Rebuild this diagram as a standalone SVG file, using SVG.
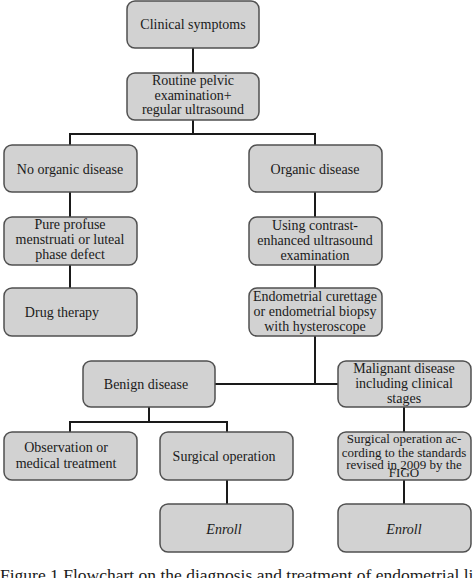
<svg xmlns="http://www.w3.org/2000/svg" width="474" height="578" viewBox="0 0 474 578">
<style>
.box{fill:#d2d2d2;stroke:#505050;stroke-width:1.5}
.t{font-family:"Liberation Serif","Times New Roman",serif;font-size:14px;fill:#1a1a1a;text-anchor:middle}
.s{font-size:13px}
.i{font-style:italic}
.c{stroke:#1a1a1a;stroke-width:2;fill:none}
.cap{font-family:"Liberation Serif","Times New Roman",serif;font-size:17.5px;fill:#1a1a1a}
</style>
<rect width="474" height="578" fill="#fff"/>
<g id="connectors">
<path class="c" d="M193,48V73M193,120V134M69,134H316M70,133V145M315,133V145M70,192V217M70,265V288M315,192V217M315,265V288M315,336V384M215,384H338M149,407V422M69,422H228M70,421V432M227,421V432M227,480V504M404,407V432M404,480V504"/>
</g>
<g id="clinical"><rect class="box" x="127" y="1" width="132" height="47" rx="8"/><text class="t" x="193" y="29">Clinical symptoms</text></g>
<g id="routine"><rect class="box" x="127" y="73" width="132" height="47" rx="8"/><text class="t" x="193" y="85">Routine pelvic</text><text class="t" x="193" y="100">examination+</text><text class="t" x="193" y="114">regular ultrasound</text></g>
<g id="noorganic"><rect class="box" x="4" y="145" width="133" height="47" rx="8"/><text class="t" x="70" y="174">No organic disease</text></g>
<g id="organic"><rect class="box" x="249" y="145" width="133" height="47" rx="8"/><text class="t" x="315" y="174">Organic disease</text></g>
<g id="pure"><rect class="box" x="4" y="217" width="133" height="48" rx="8"/><text class="t" x="70" y="229">Pure profuse</text><text class="t" x="70" y="244">menstruati or luteal</text><text class="t" x="70" y="259">phase defect</text></g>
<g id="contrast"><rect class="box" x="249" y="217" width="133" height="48" rx="8"/><text class="t" x="315" y="230">Using contrast-</text><text class="t" x="315" y="245">enhanced ultrasound</text><text class="t" x="315" y="260">examination</text></g>
<g id="drug"><rect class="box" x="4" y="288" width="133" height="48" rx="8"/><text class="t" x="62" y="317">Drug therapy</text></g>
<g id="endometrial"><rect class="box" x="249" y="288" width="133" height="48" rx="8"/><text class="t" x="315" y="301">Endometrial curettage</text><text class="t" x="315" y="316">or endometrial biopsy</text><text class="t" x="315" y="331">with hysteroscope</text></g>
<g id="benign"><rect class="box" x="83" y="361" width="132" height="46" rx="8"/><text class="t" x="146" y="389">Benign disease</text></g>
<g id="malignant"><rect class="box" x="338" y="361" width="133" height="46" rx="8"/><text class="t" x="404" y="373">Malignant disease</text><text class="t" x="404" y="388">including clinical</text><text class="t" x="404" y="403">stages</text></g>
<g id="observation"><rect class="box" x="4" y="432" width="133" height="48" rx="8"/><text class="t" x="66" y="452">Observation or</text><text class="t" x="66" y="468">medical treatment</text></g>
<g id="surgical"><rect class="box" x="160" y="432" width="133" height="48" rx="8"/><text class="t" x="224" y="461">Surgical operation</text></g>
<g id="figo"><rect class="box" x="338" y="432" width="133" height="48" rx="8"/><text class="t s" x="404" y="443">Surgical operation ac-</text><text class="t s" x="404" y="457">cording to the standards</text><text class="t s" x="404" y="469">revised in 2009 by the</text><text class="t s" x="404" y="477">FIGO</text></g>
<g id="enroll1"><rect class="box" x="160" y="504" width="133" height="48" rx="8"/><text class="t i" x="224" y="534">Enroll</text></g>
<g id="enroll2"><rect class="box" x="338" y="504" width="133" height="48" rx="8"/><text class="t i" x="404" y="534">Enroll</text></g>
<text class="cap" x="0" y="581">Figure 1 Flowchart on the diagnosis and treatment of endometrial li</text>
</svg>
